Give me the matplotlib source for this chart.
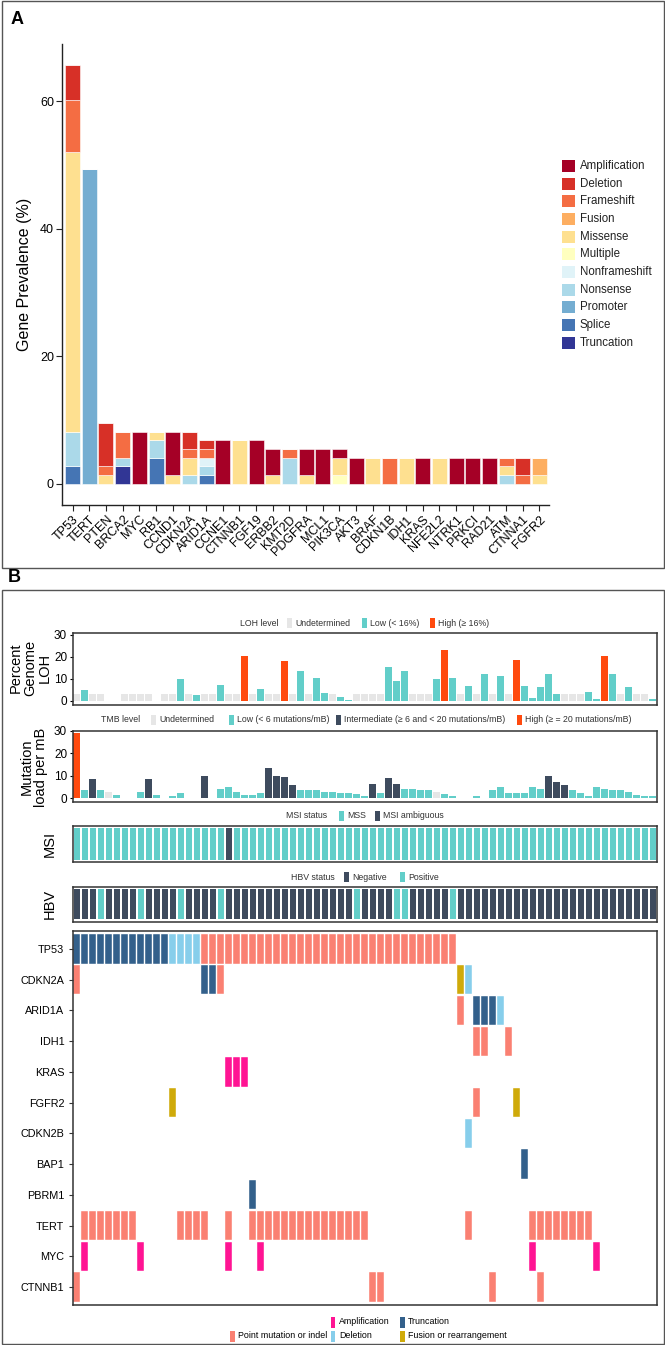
import numpy as np
import matplotlib
matplotlib.use("Agg")
import matplotlib.pyplot as plt
from matplotlib.patches import Rectangle

plt.rcParams['font.family'] = ['Liberation Sans', 'DejaVu Sans']

# ---------------- Panel A data (gene prevalence, %) ----------------
genes_a = ["TP53", "TERT", "PTEN", "BRCA2", "MYC", "RB1", "CCND1", "CDKN2A", "ARID1A",
           "CCNE1", "CTNNB1", "FGF19", "ERBB2", "KMT2D", "PDGFRA", "MCL1", "PIK3CA",
           "AKT3", "BRAF", "CDKN1B", "IDH1", "KRAS", "NFE2L2", "NTRK1", "PRKCI",
           "RAD21", "ATM", "CTNNA1", "FGFR2"]
amplification = [0, 0, 0, 0, 8.22, 0, 6.85, 0, 0, 6.85, 0, 6.85, 4.11, 0, 4.11, 5.48, 1.37, 4.11, 0, 0, 0, 4.11, 0, 4.11, 4.11, 4.11, 0, 0, 0]
deletion      = [5.48, 0, 6.85, 0, 0, 0, 0, 2.74, 1.37, 0, 0, 0, 0, 0, 0, 0, 0, 0, 0, 0, 0, 0, 0, 0, 0, 0, 0, 2.74, 0]
frameshift    = [8.22, 0, 1.37, 4.11, 0, 0, 0, 1.37, 1.37, 0, 0, 0, 0, 1.37, 0, 0, 0, 0, 0, 4.11, 0, 0, 0, 0, 0, 0, 1.37, 1.37, 0]
fusion        = [0, 0, 0, 0, 0, 0, 0, 0, 0, 0, 0, 0, 0, 0, 0, 0, 0, 0, 0, 0, 0, 0, 0, 0, 0, 0, 0, 0, 2.74]
missense      = [43.84, 0, 1.37, 0, 0, 1.37, 1.37, 2.74, 0, 0, 6.85, 0, 1.37, 0, 1.37, 0, 2.74, 0, 4.11, 0, 4.11, 0, 4.11, 0, 0, 0, 1.37, 0, 1.37]
multiple      = [0, 0, 0, 0, 0, 0, 0, 0, 0, 0, 0, 0, 0, 0, 0, 0, 1.37, 0, 0, 0, 0, 0, 0, 0, 0, 0, 0, 0, 0]
nonframeshift = [0, 0, 0, 0, 0, 0, 0, 0, 1.37, 0, 0, 0, 0, 0, 0, 0, 0, 0, 0, 0, 0, 0, 0, 0, 0, 0, 0, 0, 0]
nonsense      = [5.48, 0, 0, 1.37, 0, 2.74, 0, 1.37, 1.37, 0, 0, 0, 0, 4.11, 0, 0, 0, 0, 0, 0, 0, 0, 0, 0, 0, 0, 1.37, 0, 0]
promoter      = [0, 49.32, 0, 0, 0, 0, 0, 0, 0, 0, 0, 0, 0, 0, 0, 0, 0, 0, 0, 0, 0, 0, 0, 0, 0, 0, 0, 0, 0]
splice        = [2.74, 0, 0, 0, 0, 4.11, 0, 0, 1.37, 0, 0, 0, 0, 0, 0, 0, 0, 0, 0, 0, 0, 0, 0, 0, 0, 0, 0, 0, 0]
truncation    = [0, 0, 0, 2.74, 0, 0, 0, 0, 0, 0, 0, 0, 0, 0, 0, 0, 0, 0, 0, 0, 0, 0, 0, 0, 0, 0, 0, 0, 0]

mut_types = ["Amplification", "Deletion", "Frameshift", "Fusion", "Missense", "Multiple",
             "Nonframeshift", "Nonsense", "Promoter", "Splice", "Truncation"]
mut_values = [amplification, deletion, frameshift, fusion, missense, multiple,
              nonframeshift, nonsense, promoter, splice, truncation]
mut_colors = ["#A50026", "#D73027", "#F46D43", "#FDAE61", "#FEE090", "#FFFFBF",
              "#E0F3F8", "#ABD9E9", "#74ADD1", "#4575B4", "#313695"]

# ---------------- Panel B data (73 patients) ----------------
n_patients = 73
loh_level = ["U", "L", "U", "U", None, None, "U", "U", "U", "U", None, "U", "U", "L", "U", "L",
             "U", "U", "L", "U", "U", "H", "U", "L", "U", "U", "H", "U", "L", "U", "L", "L",
             "U", "L", "L", "U", "U", "U", "U", "L", "L", "L", "U", "U", "U", "L", "H", "L",
             "U", "L", "U", "L", "U", "L", "U", "H", "L", "L", "L", "L", "L", "U", "U", "U",
             "L", "L", "H", "L", "U", "L", "U", "U", "L"]
loh_value = [2.8, 5.0, 2.8, 2.8, 0, 0, 2.8, 2.8, 2.8, 2.8, 0, 2.8, 2.8, 10.0, 2.8, 2.5,
             2.8, 2.8, 7.3, 2.8, 2.8, 20.3, 2.8, 5.3, 2.8, 2.8, 18.0, 2.8, 13.4, 2.8, 10.3, 3.3,
             2.8, 1.8, 0.3, 2.8, 2.8, 2.8, 2.8, 15.2, 9.1, 13.7, 2.8, 2.8, 2.8, 9.7, 23.0, 10.2,
             2.8, 6.8, 2.8, 12.0, 2.8, 11.4, 2.8, 18.6, 6.5, 1.2, 6.1, 12.2, 2.9, 2.8, 2.8, 2.8,
             4.1, 0.9, 20.4, 12.3, 2.8, 6.1, 2.8, 2.8, 0.9]

tmb_level = ["H", "L", "I", "L", "U", "L", None, None, "L", "I", "L", None, "L", "L", None, None,
             "I", None, "L", "L", "L", "L", "L", "L", "I", "I", "I", "I", "L", "L", "L", "L",
             "L", "L", "L", "L", "L", "I", "L", "I", "I", "L", "L", "L", "L", "U", "L", "L",
             None, None, "L", None, "L", "L", "L", "L", "L", "L", "L", "I", "I", "I", "L", "L",
             "L", "L", "L", "L", "L", "L", "L", "L", "L"]
tmb_value = [28.9, 3.7, 8.6, 3.6, 3.0, 1.3, 0, 0, 2.7, 8.6, 1.3, 0, 1.0, 2.5, 0, 0,
             9.8, 0, 4.1, 5.0, 2.8, 1.3, 1.3, 2.5, 13.6, 9.8, 9.3, 6.1, 3.9, 3.9, 3.6, 2.7,
             2.6, 2.5, 2.5, 1.8, 1.2, 6.2, 2.5, 9.2, 6.2, 4.3, 4.3, 3.6, 3.6, 3.0, 1.8, 1.2,
             0, 0, 1.2, 0, 3.6, 5.0, 2.5, 2.5, 2.5, 5.0, 4.3, 9.8, 7.4, 6.1, 3.6, 2.5,
             1.2, 5.0, 4.3, 3.7, 3.6, 2.8, 1.3, 1.0, 1.0]

msi_ambiguous_cols = [19]
hbv_positive_cols = [3, 8, 13, 18, 35, 40, 41, 47]

onco_genes = ["TP53", "CDKN2A", "ARID1A", "IDH1", "KRAS", "FGFR2", "CDKN2B", "BAP1",
              "PBRM1", "TERT", "MYC", "CTNNB1"]
onco_alts = {
    "TP53": {"Truncation": [0, 1, 2, 3, 4, 5, 6, 7, 8, 9, 10, 11],
             "Deletion": [12, 13, 14, 15],
             "Point": [16, 17, 18, 19, 20, 21, 22, 23, 24, 25, 26, 27, 28, 29, 30, 31, 32,
                       33, 34, 35, 36, 37, 38, 39, 40, 41, 42, 43, 44, 45, 46, 47]},
    "CDKN2A": {"Point": [0, 18], "Truncation": [16, 17], "Fusion": [48], "Deletion": [49]},
    "ARID1A": {"Point": [48], "Truncation": [50, 51, 52], "Deletion": [53]},
    "IDH1": {"Point": [50, 51, 54]},
    "KRAS": {"Amplification": [19, 20, 21]},
    "FGFR2": {"Fusion": [12, 55], "Point": [50]},
    "CDKN2B": {"Deletion": [49]},
    "BAP1": {"Truncation": [56]},
    "PBRM1": {"Truncation": [22]},
    "TERT": {"Point": [1, 2, 3, 4, 5, 6, 7, 13, 14, 15, 16, 19, 22, 23, 24, 25, 26, 27, 28,
                       29, 30, 31, 32, 33, 34, 35, 36, 49, 57, 58, 59, 60, 61, 62, 63, 64]},
    "MYC": {"Amplification": [1, 8, 19, 23, 57, 65]},
    "CTNNB1": {"Point": [0, 37, 38, 52, 58]},
}

# ---------------- Styling ----------------
W, H = 665, 1345
fig = plt.figure(figsize=(W / 100, H / 100), dpi=100)


def px_axes(x0, y0, x1, y1):
    return fig.add_axes([x0 / W, 1 - y1 / H, (x1 - x0) / W, (y1 - y0) / H])


def fx(x):
    return x / W


def fy(y):
    return 1 - y / H


def fig_rect(x, y, w, h, color, **kw):
    fig.patches.append(Rectangle((fx(x), fy(y + h)), w / W, h / H, transform=fig.transFigure,
                                 facecolor=color, edgecolor='none', **kw))


SPINE = "#333333"
TEAL = "#62CEC9"
RED = "#FF4A0E"
GRAY = "#E6E6E6"
DARK = "#3E4B5E"

# ---------------- Panel A ----------------
fig.text(fx(11), fy(20), "A", fontsize=13, fontweight='bold', va='center', ha='left')
axA = px_axes(62.3, 44, 549, 505)
xa = np.arange(len(genes_a))
bottom = np.zeros(len(genes_a))
for name, vals, col in reversed(list(zip(mut_types, mut_values, mut_colors))):
    v = np.array(vals, dtype=float)
    axA.bar(xa, v, 0.9, bottom=bottom, color=col, edgecolor='white', linewidth=0.4)
    bottom += v
axA.set_xlim(-0.62, 28.57)
axA.set_ylim(-3.3, 69)
for s in ["top", "right"]:
    axA.spines[s].set_visible(False)
for s in ["left", "bottom"]:
    axA.spines[s].set_color("#222222")
    axA.spines[s].set_linewidth(1.0)
axA.set_yticks([0, 20, 40, 60])
axA.tick_params(axis='y', labelsize=9, length=4, color="#222222", pad=2)
axA.set_xticks(xa)
axA.set_xticklabels(genes_a, rotation=45, ha='right', rotation_mode='anchor', fontsize=9)
axA.tick_params(axis='x', length=4, color="#222222", pad=2)
axA.set_ylabel("Gene Prevalence (%)", fontsize=11.5, labelpad=6)

# legend A
for i, (name, col) in enumerate(zip(mut_types, mut_colors)):
    yc = 166 + i * 17.65
    fig_rect(562, yc - 6, 12.5, 12, col)
    fig.text(fx(580), fy(yc), name, fontsize=8.3, va='center', ha='left', color="#222222")

# frames around panels
fig.patches.append(Rectangle((fx(1.5), fy(568)), (W - 3) / W, (568 - 1) / H, transform=fig.transFigure,
                             facecolor='none', edgecolor='#555555', linewidth=1.0))
fig.patches.append(Rectangle((fx(1.5), fy(1343.5)), (W - 3) / W, (1343.5 - 590) / H,
                             transform=fig.transFigure, facecolor='none', edgecolor='#555555',
                             linewidth=1.0))

# ---------------- Panel B ----------------
fig.text(fx(8), fy(578), "B", fontsize=13, fontweight='bold', va='center', ha='left')

XL, XR = 72.7, 656.7
cols = np.arange(n_patients)


def box_axes(ax):
    for s in ax.spines.values():
        s.set_color(SPINE)
        s.set_linewidth(1.1)
    ax.set_xlim(-0.5, n_patients - 0.5)
    ax.set_xticks([])


def small_legend(y, title, title_x, entries, fs=6.3):
    fig.text(fx(title_x), fy(y), title, fontsize=fs, va='center', ha='left', color="#333333")
    for sx, col, lab in entries:
        fig_rect(sx, y - 5, 5, 10, col)
        fig.text(fx(sx + 8), fy(y), lab, fontsize=fs, va='center', ha='left', color="#333333")


# LOH
axL = px_axes(XL, 632.7, XR, 705)
lcol = {"U": GRAY, "L": TEAL, "H": RED}
for i, (lv, v) in enumerate(zip(loh_level, loh_value)):
    if lv is None:
        continue
    axL.bar(i, v, 0.82, color=lcol[lv], linewidth=0)
box_axes(axL)
axL.set_ylim(-2, 31)
axL.set_yticks([0, 10, 20, 30])
axL.tick_params(axis='y', labelsize=8.5, length=2, pad=2)
fig.text(fx(30), fy(668), "Percent\nGenome\nLOH", rotation=90, fontsize=10.5, va='center',
         ha='center', linespacing=1.05)
small_legend(623, "LOH level", 240, [(287, GRAY, "Undetermined"), (362, TEAL, "Low (< 16%)"),
                                     (430, RED, "High (\u2265 16%)")])

# TMB
axT = px_axes(XL, 730.7, XR, 801.7)
tcol = {"U": GRAY, "L": TEAL, "I": DARK, "H": RED}
for i, (lv, v) in enumerate(zip(tmb_level, tmb_value)):
    if lv is None:
        continue
    axT.bar(i, v, 0.82, color=tcol[lv], linewidth=0)
box_axes(axT)
axT.set_ylim(-1.5, 30.1)
axT.set_yticks([0, 10, 20, 30])
axT.tick_params(axis='y', labelsize=8.5, length=2, pad=2)
fig.text(fx(34), fy(767), "Mutation\nload per mB", rotation=90, fontsize=10.5, va='center',
         ha='center', linespacing=1.05)
small_legend(720, "TMB level", 101, [(151, GRAY, "Undetermined"),
                                     (229, TEAL, "Low (< 6 mutations/mB)"),
                                     (336, DARK, "Intermediate (\u2265 6 and < 20 mutations/mB)"),
                                     (517, RED, "High (\u2265 = 20 mutations/mB)")])

# MSI
axM = px_axes(XL, 826.3, XR, 862)
msi_status = ["MSS"] * n_patients
for c in msi_ambiguous_cols:
    msi_status[c] = "MSI ambiguous"
mcol = {"MSS": TEAL, "MSI ambiguous": DARK}
axM.bar(cols, 0.87, 0.76, bottom=0.07, color=[mcol[s] for s in msi_status], linewidth=0)
box_axes(axM)
axM.set_ylim(0, 1)
axM.set_yticks([])
fig.text(fx(50), fy(844), "MSI", rotation=90, fontsize=10.5, va='center', ha='center')
small_legend(816, "MSI status", 286, [(339, TEAL, "MSS"), (375, DARK, "MSI ambiguous")])

# HBV
axH = px_axes(XL, 887, XR, 921.7)
hbv_status = ["Negative"] * n_patients
for c in hbv_positive_cols:
    hbv_status[c] = "Positive"
hcol = {"Negative": DARK, "Positive": TEAL}
axH.bar(cols, 0.87, 0.76, bottom=0.07, color=[hcol[s] for s in hbv_status], linewidth=0)
box_axes(axH)
axH.set_ylim(0, 1)
axH.set_yticks([])
fig.text(fx(50), fy(904), "HBV", rotation=90, fontsize=10.5, va='center', ha='center')
small_legend(877, "HBV status", 291, [(344, DARK, "Negative"), (400, TEAL, "Positive")])

# Oncoprint
axO = px_axes(XL, 931, XR, 1305)
ocol = {"Point": "#FA8072", "Amplification": "#FF1493", "Truncation": "#33608B",
        "Deletion": "#87CEEB", "Fusion": "#CFAA0A"}
for r, g in enumerate(onco_genes):
    for kind, cl in onco_alts[g].items():
        axO.bar(cl, 0.95, 0.88, bottom=r - 0.475, color=ocol[kind], edgecolor='white',
                linewidth=0.3)
box_axes(axO)
axO.set_ylim(11.585, -0.585)
axO.set_yticks(range(len(onco_genes)))
axO.set_yticklabels(onco_genes, fontsize=7.8)
axO.tick_params(axis='y', length=3, pad=3, color=SPINE)

# Oncoprint legend
leg_fs = 6.4
fig_rect(331, 1317, 4.5, 10.5, ocol["Amplification"])
fig.text(fx(339), fy(1322), "Amplification", fontsize=leg_fs, va='center', ha='left')
fig_rect(400, 1317, 4.5, 10.5, ocol["Truncation"])
fig.text(fx(408), fy(1322), "Truncation", fontsize=leg_fs, va='center', ha='left')
fig_rect(230, 1331, 4.5, 10.5, ocol["Point"])
fig.text(fx(238), fy(1336), "Point mutation or indel", fontsize=leg_fs, va='center', ha='left')
fig_rect(331, 1331, 4.5, 10.5, ocol["Deletion"])
fig.text(fx(339), fy(1336), "Deletion", fontsize=leg_fs, va='center', ha='left')
fig_rect(400, 1331, 4.5, 10.5, ocol["Fusion"])
fig.text(fx(408), fy(1336), "Fusion or rearrangement", fontsize=leg_fs, va='center', ha='left')

fig.savefig("out.png", dpi=100)
